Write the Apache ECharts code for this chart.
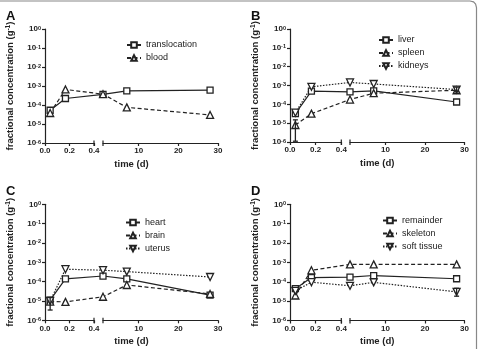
<!DOCTYPE html>
<html>
<head>
<meta charset="utf-8">
<script src="https://cdn.jsdelivr.net/npm/echarts@6/dist/echarts.min.js"></script>
<style>
  html, body { margin: 0; padding: 0; background: #fff; }
  #chart { width: 478px; height: 349px; }
</style>
</head>
<body>
<div id="chart"></div>
<script>
// sampling times (d): 1 h, 4 h, 1 d, 7 d, 28 d
const days = [0.042, 0.167, 1, 7, 28];
const leftTicks = [0, 0.2, 0.4];
const rightTicks = [10, 20, 30];

// fractional concentration (g^-1)
const translocation = [5.3e-5, 2.2e-4, 3.6e-4, 5.6e-4, 6.1e-4];
const blood = [3.8e-5, 6.6e-4, 3.7e-4, 7.5e-5, 3.0e-5];
const liver = [3.2e-5, 5.0e-4, 4.6e-4, 5.2e-4, 1.33e-4];
const spleen = [8.0e-6, 3.2e-5, 1.8e-4, 3.9e-4, 5.6e-4];
const kidneys = [3.6e-5, 8.5e-4, 1.45e-3, 1.2e-3, 6.1e-4];
const heart = [1.1e-5, 1.38e-4, 1.95e-4, 1.4e-4, 2.0e-5];
const brain = [9.3e-6, 9.0e-6, 1.65e-5, 6.7e-5, 2.3e-5];
const uterus = [1.0e-5, 4.4e-4, 3.9e-4, 3.3e-4, 1.74e-4];
const remainder = [4.4e-5, 1.65e-4, 1.72e-4, 2.1e-4, 1.43e-4];
const skeleton = [1.95e-5, 3.9e-4, 7.9e-4, 7.9e-4, 7.9e-4];
const softTissue = [3.4e-5, 9.5e-5, 6.2e-5, 9.3e-5, 3.0e-5];

// error bars [day, low, high]
const errB = [[0.042, 1.1e-6, 1.5e-5], [28, 4.6e-4, 8.2e-4]];
const errC = [[0.042, 3.4e-6, 1.5e-5]];
const errD = [[28, 1.8e-5, 4.6e-5]];

const font = "'Liberation Sans', Arial, sans-serif";
const ink = '#222';

const panels = [
  { letter: 'A', box: { x0: 45, xL: 94, xR: 103, x1: 218, yT: 29, yB: 143 }, legend: { left: 126, top: 40 },
    lines: [['translocation', translocation, 'square'], ['blood', blood, 'up']], err: [] },
  { letter: 'B', box: { x0: 290, xL: 341.3, xR: 350, x1: 464.5, yT: 29, yB: 142 }, legend: { left: 378, top: 35 },
    lines: [['liver', liver, 'square'], ['spleen', spleen, 'up'], ['kidneys', kidneys, 'down']], err: errB },
  { letter: 'C', box: { x0: 45, xL: 94, xR: 103, x1: 218, yT: 204.3, yB: 320.3 }, legend: { left: 125, top: 217.5 },
    lines: [['heart', heart, 'square'], ['brain', brain, 'up'], ['uterus', uterus, 'down']], err: errC },
  { letter: 'D', box: { x0: 290, xL: 341.3, xR: 350, x1: 464.5, yT: 204.3, yB: 320.5 }, legend: { left: 382, top: 215.5 },
    lines: [['remainder', remainder, 'square'], ['skeleton', skeleton, 'up'], ['soft tissue', softTissue, 'down']], err: errD }
];

const kinds = {
  square: { symbol: 'rect', size: 6, rotate: 0, dash: 'solid' },
  up: { symbol: 'triangle', size: 7, rotate: 0, dash: [4, 2.5] },
  down: { symbol: 'triangle', size: 7, rotate: 180, dash: [1.5, 1.5] }
};

// broken axis: 0-0.4 on the left piece, 1-30 on the right piece
function makeTx(b) {
  const wl = b.xL - b.x0, wr = b.x1 - b.xR, off = b.xR - b.x0;
  return d => d <= 0.4 ? d / 0.4 * wl : off + (d - 1) / 29 * wr;
}

const grids = [], xAxes = [], yAxes = [], series = [], legends = [], graphics = [];

const axisLine = { lineStyle: { color: ink, width: 1.2 } };
const tick = { length: 3, lineStyle: { color: ink, width: 1.2 } };
const xLabel = { fontSize: 8, fontWeight: 'bold', color: ink, fontFamily: font, margin: 4 };
const yRich = {
  b: { fontSize: 8, fontWeight: 'bold', color: ink, fontFamily: font },
  s: { fontSize: 5.5, fontWeight: 'bold', color: ink, fontFamily: font, verticalAlign: 'top' }
};

panels.forEach(p => {
  const b = p.box, tx = makeTx(b), h = b.yB - b.yT;
  const g0 = grids.length;
  grids.push({ left: b.x0, top: b.yT, width: b.xL - b.x0, height: h });
  grids.push({ left: b.xR, top: b.yT, width: b.x1 - b.xR, height: h });
  grids.push({ left: b.x0, top: b.yT, width: b.x1 - b.x0, height: h });

  xAxes.push({ gridIndex: g0, type: 'value', min: leftTicks[0], max: leftTicks[2], interval: 0.2,
    axisLine, axisTick: tick, splitLine: { show: false },
    axisLabel: { ...xLabel, formatter: v => v.toFixed(1) } });
  xAxes.push({ gridIndex: g0 + 1, type: 'value', min: 1, max: 30,
    axisLine, axisTick: { ...tick, customValues: rightTicks }, splitLine: { show: false },
    axisLabel: { ...xLabel, customValues: rightTicks } });
  xAxes.push({ gridIndex: g0 + 2, type: 'value', min: 0, max: b.x1 - b.x0, show: false });

  yAxes.push({ gridIndex: g0, type: 'log', logBase: 10, min: 1e-6, max: 1, splitNumber: 6,
    axisLine: { show: true, ...axisLine }, axisTick: { show: true, ...tick }, splitLine: { show: false },
    axisLabel: { margin: 4, rich: yRich, formatter: v => '{b|10}{s|' + Math.round(Math.log10(v)) + '}' },
    name: 'fractional concentration (g{s|-1})', nameLocation: 'middle', nameRotate: 90, nameGap: 30,
    nameTextStyle: { fontSize: 9.5, fontWeight: 'bold', color: ink, fontFamily: font,
      rich: { s: { fontSize: 6.5, fontWeight: 'bold', color: ink, fontFamily: font, verticalAlign: 'top' } } } });
  yAxes.push({ gridIndex: g0 + 1, type: 'log', min: 1e-6, max: 1, show: false });
  yAxes.push({ gridIndex: g0 + 2, type: 'log', min: 1e-6, max: 1, show: false });

  p.lines.forEach(([name, values, kind]) => {
    const k = kinds[kind];
    series.push({
      name, type: 'line', xAxisIndex: g0 + 2, yAxisIndex: g0 + 2,
      data: days.map((d, j) => [tx(d), values[j]]),
      symbol: k.symbol, symbolSize: k.size, symbolRotate: k.rotate, showSymbol: true,
      lineStyle: { color: ink, width: 1.2, type: k.dash },
      itemStyle: { color: '#fff', borderColor: ink, borderWidth: 1.3 },
      emphasis: { disabled: true }, z: 3
    });
  });

  if (p.err.length) {
    series.push({
      type: 'custom', xAxisIndex: g0 + 2, yAxisIndex: g0 + 2, z: 4,
      data: p.err.map(e => [tx(e[0]), e[1], e[2]]),
      encode: { x: 0, y: [1, 2] },
      renderItem: (params, api) => {
        const lo = api.coord([api.value(0), api.value(1)]);
        const hi = api.coord([api.value(0), api.value(2)]);
        const st = { stroke: ink, lineWidth: 1.3 };
        return { type: 'group', children: [
          { type: 'line', shape: { x1: lo[0], y1: lo[1], x2: hi[0], y2: hi[1] }, style: st },
          { type: 'line', shape: { x1: lo[0] - 2.5, y1: lo[1], x2: lo[0] + 2.5, y2: lo[1] }, style: st },
          { type: 'line', shape: { x1: hi[0] - 2.5, y1: hi[1], x2: hi[0] + 2.5, y2: hi[1] }, style: st }
        ] };
      }
    });
  }

  legends.push({
    left: p.legend.left, top: p.legend.top, orient: 'vertical', padding: 0,
    data: p.lines.map(l => l[0]), itemWidth: 14, itemHeight: 7, itemGap: 3, selectedMode: false,
    textStyle: { fontSize: 9, color: ink, fontFamily: font, lineHeight: 10 }
  });

  graphics.push({ type: 'text', x: b.x0 - 39, y: b.yT - 19,
    style: { text: p.letter, font: 'bold 13px ' + font, fill: '#111' } });
  graphics.push({ type: 'text', x: (b.x0 + b.x1) / 2, y: b.yB + 21,
    style: { text: 'time (d)', font: 'bold 9.5px ' + font, fill: ink, align: 'center', verticalAlign: 'middle' } });
  [b.xL, b.xR].forEach(x => graphics.push({ type: 'line',
    shape: { x1: x, y1: b.yB - 2.5, x2: x, y2: b.yB + 3 }, style: { stroke: ink, lineWidth: 1.2 } }));
});

// figure frame (top and right edge)
graphics.push({ type: 'polyline', shape: { points: [[0, 1], [470, 1], [473.5, 1.9], [475.6, 4], [476.5, 7.5], [476.5, 349]] },
  style: { fill: null, stroke: '#888', lineWidth: 1.2 } });

const chart = echarts.init(document.getElementById('chart'));
chart.setOption({
  animation: false,
  backgroundColor: '#fff',
  textStyle: { fontFamily: font },
  grid: grids, xAxis: xAxes, yAxis: yAxes,
  legend: legends, series, graphic: graphics
});
</script>
</body>
</html>
